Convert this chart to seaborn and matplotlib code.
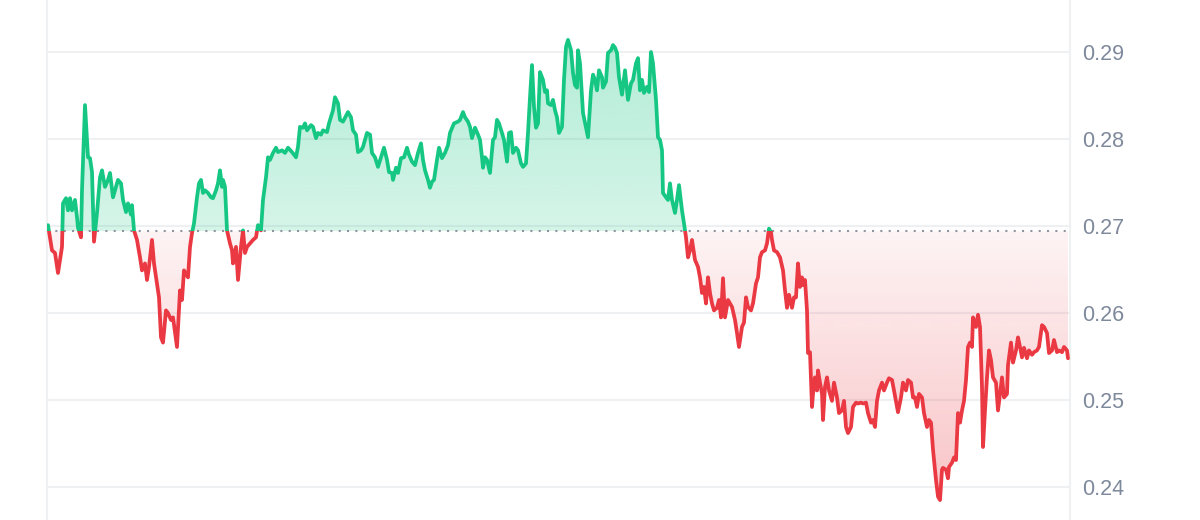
import numpy as np
import pandas as pd
import matplotlib
matplotlib.use("Agg")
import matplotlib.pyplot as plt
import seaborn as sns
from matplotlib.colors import to_rgba
from matplotlib.path import Path

# price series, one sample per 10-minute step (7 days)
step = [
    0, 4, 7, 10, 14, 15, 18, 20, 22, 24, 27, 29, 30, 33, 34, 37, 40, 42, 44, 46,
    49, 52, 54, 57, 60, 62, 65, 68, 70, 73, 75, 78, 80, 83, 84, 86, 89, 92, 94, 97,
    99, 101, 104, 106, 109, 111, 113, 115, 118, 120, 123, 125, 129, 132, 134, 136, 140, 142,
    144, 146, 149, 151, 153, 155, 157, 160, 163, 165, 168, 170, 172, 174, 175, 177, 179, 182,
    184, 185, 188, 190, 193, 195, 197, 199, 202, 205, 208, 210, 213, 215, 218, 220, 222, 225,
    228, 230, 234, 237, 240, 244, 248, 250, 252, 255, 257, 259, 263, 265, 268, 270, 273, 275,
    279, 281, 285, 287,
    290, 292, 295, 300, 303, 305, 308, 310, 313, 315, 319, 322, 324, 327, 330, 333, 336, 339,
    341, 344, 345, 348, 350, 353, 356, 359, 361, 364, 367, 370, 373, 375, 377, 380, 382, 384,
    386, 389, 391, 394, 397, 400, 402, 406, 410, 412, 415, 417, 420, 422, 424, 427, 430,
    432, 434, 435, 437, 439, 442, 445, 447, 449, 451, 454, 456, 459, 461, 463, 465, 468, 470,
    473, 475, 478, 480, 482, 484, 486, 488, 490, 492, 495, 497, 499, 500, 503, 505, 507, 509,
    511, 514, 516, 518, 520, 523, 525, 527, 529, 530, 532, 534, 535, 538, 540, 543, 545, 547,
    549, 551, 554, 555, 558, 560, 563, 565, 567, 569, 571, 574,
    577, 580, 583, 585, 588, 590, 592, 594, 596, 599, 601, 603, 605, 608, 610, 612, 614, 615,
    618, 620, 622, 624, 627, 629, 631, 634, 636, 638, 640, 642, 644, 647, 650, 652, 654, 656,
    658, 660, 662, 664, 666, 669, 671, 673, 675, 677, 680, 682, 684, 687, 689, 691, 694, 696,
    698, 700, 703, 705, 708, 710, 712, 714, 717, 719, 721, 723,
    724, 726, 729, 732, 735, 737, 739, 741, 744, 746, 748, 750, 752, 754, 755, 757, 759, 760,
    762, 764, 765, 767, 769, 770, 772, 774, 775, 777, 779, 781, 784, 786, 789, 791, 794, 796,
    798, 800, 803, 805, 808, 810, 813, 815, 818, 820, 823, 825, 827, 829, 831, 834, 836, 839,
    841, 844, 846, 849, 850, 853, 855, 858, 860, 863, 865,
    867, 869, 871, 874, 876, 879, 881, 883, 885, 888, 890, 892, 894, 895, 898, 900, 901, 904,
    906, 908, 910, 912, 914, 916, 918, 920, 922, 924, 925, 928, 930, 932, 934, 935, 937, 939,
    941, 943, 945, 948, 950, 952, 954, 956, 959, 960, 963, 965, 968, 970, 972, 974, 976, 979,
    981, 984, 986, 989, 991, 994, 996, 999, 1001, 1004, 1006, 1009, 1011, 1014, 1016, 1019, 1020,
]
price = [
    0.2701, 0.2672, 0.2669, 0.2646, 0.2676, 0.2726, 0.2732, 0.2718, 0.2732, 0.2718,
    0.2730, 0.2710, 0.2698, 0.2687, 0.2741, 0.2839, 0.2779, 0.2778, 0.2762, 0.2682,
    0.2715, 0.2756, 0.2764, 0.2745, 0.2753, 0.2761, 0.2733, 0.2745, 0.2753, 0.2749,
    0.2730, 0.2716, 0.2726, 0.2713, 0.2724, 0.2695, 0.2684, 0.2664, 0.2649, 0.2657,
    0.2638, 0.2653, 0.2684, 0.2657, 0.2634, 0.2618, 0.2572, 0.2566, 0.2603, 0.2600,
    0.2592, 0.2595, 0.2561, 0.2626, 0.2615, 0.2649, 0.2641, 0.2676,
    0.2692, 0.2703, 0.2733, 0.2749, 0.2753, 0.2738, 0.2741, 0.2738, 0.2733, 0.2732,
    0.2741, 0.2749, 0.2764, 0.2745, 0.2753, 0.2745, 0.2695, 0.2680, 0.2672, 0.2657,
    0.2676, 0.2638, 0.2676, 0.2695, 0.2669, 0.2676, 0.2680, 0.2684, 0.2687, 0.2701,
    0.2695, 0.2730, 0.2756, 0.2779, 0.2776, 0.2784, 0.2790, 0.2785, 0.2787, 0.2784,
    0.2790, 0.2785, 0.2779, 0.2791, 0.2814, 0.2813, 0.2818, 0.2810, 0.2816, 0.2814,
    0.2801, 0.2807, 0.2805, 0.2810, 0.2808, 0.2818, 0.2833, 0.2848,
    0.2841, 0.2822, 0.2820, 0.2831, 0.2825, 0.2810, 0.2805, 0.2785, 0.2787, 0.2791,
    0.2807, 0.2805, 0.2784, 0.2779, 0.2768, 0.2779, 0.2790, 0.2776, 0.2762, 0.2761,
    0.2753, 0.2767, 0.2761, 0.2778, 0.2779, 0.2790, 0.2782, 0.2774, 0.2770, 0.2784,
    0.2795, 0.2776, 0.2764, 0.2753, 0.2744, 0.2751, 0.2753, 0.2776, 0.2790, 0.2778,
    0.2784, 0.2793, 0.2807, 0.2818, 0.2820, 0.2822, 0.2831, 0.2825, 0.2820, 0.2814,
    0.2801, 0.2813, 0.2805,
    0.2799, 0.2779, 0.2767, 0.2779, 0.2776, 0.2761, 0.2799, 0.2802, 0.2822, 0.2818,
    0.2807, 0.2799, 0.2774, 0.2807, 0.2808, 0.2784, 0.2790, 0.2787, 0.2772, 0.2768,
    0.2772, 0.2807, 0.2848, 0.2885, 0.2837, 0.2813, 0.2818, 0.2877, 0.2868, 0.2854,
    0.2856, 0.2841, 0.2839, 0.2845, 0.2833, 0.2825, 0.2807, 0.2814, 0.2868, 0.2906,
    0.2914, 0.2902, 0.2876, 0.2862, 0.2859, 0.2902, 0.2887, 0.2848, 0.2830, 0.2813,
    0.2802, 0.2856, 0.2874, 0.2868, 0.2856, 0.2879, 0.2871, 0.2859, 0.2866, 0.2899,
    0.2902, 0.2908, 0.2905, 0.2899, 0.2871, 0.2851,
    0.2879, 0.2845, 0.2864, 0.2868, 0.2887, 0.2893, 0.2856, 0.2868, 0.2853, 0.2860,
    0.2854, 0.2900, 0.2887, 0.2845, 0.2802, 0.2799, 0.2787, 0.2738, 0.2733, 0.2730,
    0.2749, 0.2730, 0.2715, 0.2730, 0.2747, 0.2718, 0.2703, 0.2687, 0.2664, 0.2672,
    0.2684, 0.2661, 0.2653, 0.2641, 0.2623, 0.2630, 0.2611, 0.2641, 0.2623, 0.2611,
    0.2603, 0.2606, 0.2615, 0.2595, 0.2640, 0.2595, 0.2615, 0.2611, 0.2607, 0.2592,
    0.2577, 0.2561, 0.2584, 0.2589, 0.2618, 0.2607, 0.2603, 0.2611, 0.2634, 0.2641,
    0.2664, 0.2670, 0.2672, 0.2680, 0.2697, 0.2693,
    0.2684, 0.2672, 0.2670, 0.2664, 0.2649, 0.2626, 0.2606, 0.2621, 0.2606, 0.2618,
    0.2618, 0.2657, 0.2630, 0.2641, 0.2632, 0.2638, 0.2603, 0.2554, 0.2555, 0.2492,
    0.2507, 0.2526, 0.2511, 0.2534, 0.2520, 0.2507, 0.2477, 0.2515, 0.2526, 0.2511,
    0.2499, 0.2520, 0.2503, 0.2485, 0.2488, 0.2499, 0.2469, 0.2462, 0.2469, 0.2492,
    0.2497, 0.2496, 0.2497, 0.2496, 0.2497, 0.2485, 0.2474, 0.2477, 0.2469, 0.2499,
    0.2511, 0.2520, 0.2511, 0.2520, 0.2525, 0.2523, 0.2511, 0.2492, 0.2486, 0.2503,
    0.2520, 0.2511, 0.2523, 0.2520, 0.2503,
    0.2503, 0.2492, 0.2507, 0.2503, 0.2485, 0.2469, 0.2477, 0.2474, 0.2443, 0.2408,
    0.2389, 0.2385, 0.2420, 0.2422, 0.2420, 0.2410, 0.2423, 0.2428, 0.2434, 0.2431,
    0.2485, 0.2474, 0.2488, 0.2499, 0.2523, 0.2561, 0.2566, 0.2561, 0.2595, 0.2584,
    0.2598, 0.2584, 0.2515, 0.2446, 0.2488, 0.2526, 0.2557, 0.2546, 0.2526, 0.2520,
    0.2488, 0.2507, 0.2526, 0.2503, 0.2507, 0.2540, 0.2566, 0.2543, 0.2557, 0.2572,
    0.2561, 0.2549, 0.2560, 0.2548, 0.2557, 0.2552, 0.2555, 0.2557, 0.2561, 0.2586,
    0.2584, 0.2577, 0.2554, 0.2557, 0.2569, 0.2555, 0.2557, 0.2555, 0.2561, 0.2557,
    0.2548,
]
baseline = 0.2694
yticks = [0.24, 0.25, 0.26, 0.27, 0.28, 0.29]

green = '#16c784'
red = '#ea3943'

df = pd.DataFrame({'step': step, 'price': price})

sns.set_style('white')
plt.rcParams['font.family'] = ['Liberation Sans', 'DejaVu Sans']

fig = plt.figure(figsize=(12, 5.2), dpi=100)
ax = fig.add_axes([47 / 1200, 0, 1023 / 1200, 1])
xlim = (-1, 1022)
ylim = (0.23621, 0.29598)

# grid lines
for yt in yticks:
    ax.axhline(yt, color='#eff0f2', lw=1.5, zorder=0)

t = df['step'].to_numpy()
p = df['price'].to_numpy()


def gradient_fill(where, color, y0, y1, a0, a1):
    poly = ax.fill_between(t, p, baseline, where=where, interpolate=True,
                           facecolor='none', edgecolor='none')
    path = Path.make_compound_path(*poly.get_paths())
    rgba = np.zeros((256, 1, 4))
    rgba[..., :3] = to_rgba(color)[:3]
    rgba[..., 3] = np.linspace(a0, a1, 256)[:, None]
    im = ax.imshow(rgba, extent=[t[0], t[-1], y0, y1], origin='lower',
                   aspect='auto', zorder=1, interpolation='bilinear')
    im.set_clip_path(path, ax.transData)


gradient_fill(p >= baseline, green, baseline, 0.2915, 0.18, 0.33)
gradient_fill(p <= baseline, red, 0.2385, baseline, 0.30, 0.06)

# baseline (open price)
ax.axhline(baseline, color='#8f959e', lw=1.5, ls=(0, (1, 3)), zorder=2)

# price line: green above the baseline, red below it
for color, lo, hi in [(green, baseline, 1.0), (red, 0.0, baseline)]:
    sns.lineplot(data=df, x='step', y='price', color=color, lw=2.7, ax=ax,
                 zorder=3, solid_joinstyle='round', solid_capstyle='round')
    line = ax.lines[-1]
    clip = Path([(-100, lo), (2000, lo), (2000, hi), (-100, hi), (-100, lo)])
    line.set_clip_path(clip, ax.transData)

ax.set_xlim(*xlim)
ax.set_ylim(*ylim)
ax.set_xlabel('')
ax.set_ylabel('')
ax.set_xticks([])
ax.set_yticks(yticks)
ax.set_yticklabels([f'{v:.2f}' for v in yticks])
ax.yaxis.tick_right()
ax.tick_params(axis='y', length=0, pad=9, labelsize=15.5, labelcolor='#7f899c')

for side in ['top', 'bottom']:
    ax.spines[side].set_visible(False)
for side in ['left', 'right']:
    ax.spines[side].set_color('#eff0f2')
    ax.spines[side].set_linewidth(1.5)

fig.savefig('out.png', dpi=100)
